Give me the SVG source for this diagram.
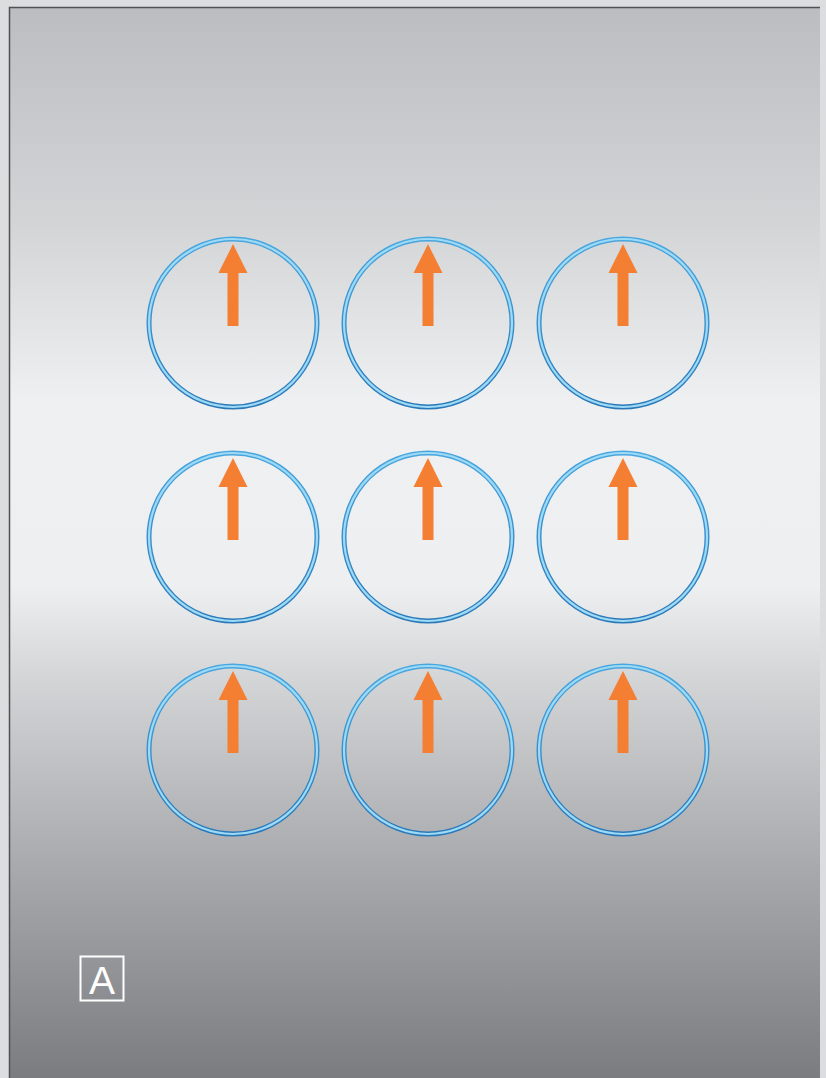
<svg xmlns="http://www.w3.org/2000/svg" width="826" height="1078" viewBox="0 0 826 1078">
<defs>
<linearGradient id="bg" x1="0" y1="0" x2="0" y2="1">
<stop offset="0" stop-color="#bbbdc0"/>
<stop offset="0.2" stop-color="#d3d4d6"/>
<stop offset="0.37" stop-color="#eff0f1"/>
<stop offset="0.54" stop-color="#eeeff0"/>
<stop offset="0.63" stop-color="#d3d4d6"/>
<stop offset="0.8" stop-color="#a9aaad"/>
<stop offset="1" stop-color="#7b7c80"/>
</linearGradient>
<linearGradient id="ring" x1="0" y1="0" x2="0" y2="1">
<stop offset="0" stop-color="#4aa6de"/>
<stop offset="1" stop-color="#2b78b8"/>
</linearGradient>
<g id="dial">
<circle r="84" fill="none" stroke="url(#ring)" stroke-width="5"/>
<circle r="84" fill="none" stroke="#9cdaf6" stroke-width="2.2"/>
<polygon points="0,-79 14.5,-50 5.5,-50 5.5,3 -5.5,3 -5.5,-50 -14.5,-50" fill="#f47f33"/>
</g>
</defs>
<style>
.lbl{font-family:"Liberation Sans",Arial,sans-serif;font-size:39px;fill:#ffffff}
</style>
<rect x="0" y="0" width="826" height="1078" fill="#dcdddf"/>
<g id="panel">
<rect x="9" y="7" width="811" height="1071" fill="url(#bg)"/>
<path d="M9.5 1078 V7.5 H820" fill="none" stroke="#505154" stroke-width="1.5"/>
</g>
<g id="dial-1-1"><use href="#dial" x="233" y="323"/></g>
<g id="dial-1-2"><use href="#dial" x="428" y="323"/></g>
<g id="dial-1-3"><use href="#dial" x="623" y="323"/></g>
<g id="dial-2-1"><use href="#dial" x="233" y="537"/></g>
<g id="dial-2-2"><use href="#dial" x="428" y="537"/></g>
<g id="dial-2-3"><use href="#dial" x="623" y="537"/></g>
<g id="dial-3-1"><use href="#dial" x="233" y="750"/></g>
<g id="dial-3-2"><use href="#dial" x="428" y="750"/></g>
<g id="dial-3-3"><use href="#dial" x="623" y="750"/></g>
<g id="connectors"></g>
<g id="label-a">
<rect x="80.5" y="956.5" width="43" height="44" fill="none" stroke="#ffffff" stroke-width="2"/>
<text x="102" y="994" text-anchor="middle" class="lbl">A</text>
</g>
</svg>
